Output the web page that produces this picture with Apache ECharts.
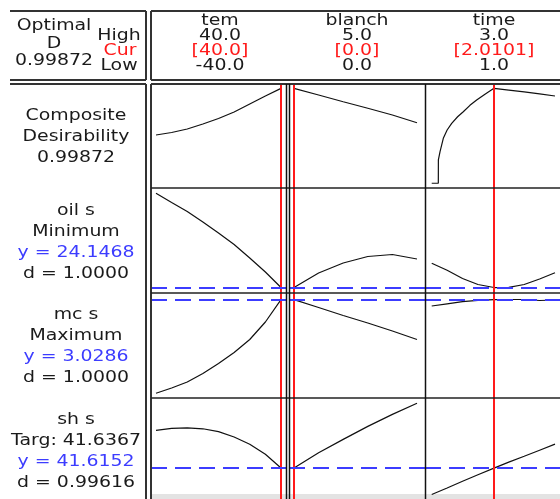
<!DOCTYPE html>
<html>
<head>
<meta charset="utf-8">
<script src="https://cdn.jsdelivr.net/npm/echarts/dist/echarts.min.js"></script>
<style>
html,body{margin:0;padding:0;background:#ffffff;}
#chart{width:560px;height:499px;}
</style>
</head>
<body>
<div id="chart"></div>
<script>
// ---- Data ----
const factors = ['tem', 'blanch', 'time'];
const highVals = [40.0, 5.0, 3.0];
const curVals = [40.0, 0.0, 2.0101];
const lowVals = [-40.0, 0.0, 1.0];
const optimalD = '0.99872';
const responses = ['oil s', 'mc s', 'sh s'];
const goals = ['Minimum', 'Maximum', 'Targ: 41.6367'];
const predicted = [24.1468, 3.0286, 41.6152];
const desirability = ['1.0000', '1.0000', '0.99616'];

const temX = [-40, -30, -20, -10, 0, 10, 20, 30, 40];
const blanchX = [0, 1, 2, 3, 4, 5];
const timeX = [1.0, 1.25, 1.5, 1.75, 2.0101, 2.25, 2.5, 2.75, 3.0];
const compTimeX = [1.0, 1.107, 1.108, 1.135, 1.188, 1.25, 1.324, 1.42, 1.512, 1.62, 1.729, 1.87, 2.0101, 2.25, 2.5, 2.75, 3.0];

const compTem = [0.508, 0.534, 0.571, 0.624, 0.681, 0.750, 0.834, 0.918, 0.99872];
const compBlanch = [0.99872, 0.929, 0.858, 0.789, 0.718, 0.637];
const compTime = [0, 0, 0.245, 0.332, 0.473, 0.56, 0.631, 0.70, 0.753, 0.82, 0.876, 0.94, 0.99872, 0.981, 0.962, 0.94, 0.918];

const oilTem = [33.57, 32.65, 31.75, 30.70, 29.60, 28.45, 27.10, 25.70, 24.1468];
const oilBlanch = [24.1468, 25.6, 26.6, 27.25, 27.45, 27.0];
const oilTime = [26.57, 25.87, 25.05, 24.45, 24.1468, 24.17, 24.45, 25.0, 25.63];

const mcTem = [2.092, 2.145, 2.205, 2.29, 2.39, 2.50, 2.63, 2.805, 3.0286];
const mcBlanch = [3.0286, 2.95, 2.87, 2.795, 2.715, 2.63];
const mcTime = [2.965, 2.987, 3.008, 3.022, 3.0286, 3.03, 3.03, 3.02, 3.025];

const shTem = [45.53, 45.75, 45.8, 45.7, 45.4, 44.85, 44.1, 43.05, 41.6152];
const shBlanch = [41.6152, 43.2, 44.6, 45.95, 47.2, 48.35];
const shTime = [38.87, 39.55, 40.24, 40.92, 41.6152, 42.23, 42.84, 43.47, 44.1];

// ---- Layout (positions / scales) ----
const colLayout = [
  {left: 151, width: 135, min: -43.2, max: 43.2},
  {left: 289, width: 136, min: -0.203, max: 5.325},
  {left: 425, width: 135, min: 0.891, max: 3.081}
];
const rowLayout = [
  {top: 83, height: 105, min: -0.05, max: 1.055},
  {top: 188, height: 105, min: 23.6, max: 34.1},
  {top: 293, height: 105, min: 2.045, max: 3.095},
  {top: 398, height: 105, min: 38.4, max: 48.9}
];
const curveX = [
  [temX, blanchX, compTimeX],
  [temX, blanchX, timeX],
  [temX, blanchX, timeX],
  [temX, blanchX, timeX]
];
const curveY = [
  [compTem, compBlanch, compTime],
  [oilTem, oilBlanch, oilTime],
  [mcTem, mcBlanch, mcTime],
  [shTem, shBlanch, shTime]
];
const hLines = [null, predicted[0], predicted[1], predicted[2]];

const BLACK = '#1a1a1a', RED = '#ff1a1a', BLUE = '#3c3cff';
const FONT = '16px "DejaVu Sans"';
const SX = 1.18;

function fmt(n) {
  return Number.isInteger(Math.round(n * 10000) / 1000) ? n.toFixed(1) : n.toFixed(4);
}

const grids = [], xAxes = [], yAxes = [], series = [];
for (let r = 0; r < 4; r++) {
  for (let c = 0; c < 3; c++) {
    const idx = r * 3 + c;
    const cl = colLayout[c], rl = rowLayout[r];
    grids.push({left: cl.left, width: cl.width, top: rl.top, height: rl.height, containLabel: false, show: false});
    xAxes.push({type: 'value', gridIndex: idx, min: cl.min, max: cl.max, show: false, splitLine: {show: false}});
    yAxes.push({type: 'value', gridIndex: idx, min: rl.min, max: rl.max, show: false, splitLine: {show: false}});
    const xs = curveX[r][c], ys = curveY[r][c];
    const data = xs.map((x, i) => [x, ys[i]]);
    const ml = [{xAxis: curVals[c], lineStyle: {color: RED, width: 2, type: 'solid'}}];
    if (hLines[r] !== null) ml.push({yAxis: hLines[r], lineStyle: {color: BLUE, width: 2, type: [16, 8]}});
    series.push({
      type: 'line', xAxisIndex: idx, yAxisIndex: idx, data: data,
      showSymbol: false, symbol: 'none', smooth: false, silent: true,
      lineStyle: {color: '#111', width: 1.2},
      z: 3,
      markLine: {silent: true, symbol: ['none', 'none'], label: {show: false}, animation: false, data: ml, z: 4}
    });
  }
}

function txt(str, x, y, color) {
  return {type: 'text', x: x, y: y, scaleX: SX, z: 10, silent: true,
    style: {text: str, x: 0, y: 0, fill: color, font: FONT,
      textAlign: 'center', textVerticalAlign: 'middle', align: 'center', verticalAlign: 'middle'}};
}
function ln(x1, y1, x2, y2, w, col) {
  return {type: 'line', z: 8, silent: true, shape: {x1: x1, y1: y1, x2: x2, y2: y2}, style: {stroke: col || '#333', lineWidth: w || 2}};
}

const g = [];
// gray strip at bottom
g.push({type: 'rect', z: 1, silent: true, shape: {x: 151, y: 494, width: 409, height: 5}, style: {fill: '#e3e3e3'}});
// header texts
g.push(txt('Optimal', 54, 26, BLACK));
g.push(txt('D', 54, 44, BLACK));
g.push(txt(optimalD, 54, 61, BLACK));
g.push(txt('High', 119, 36, BLACK));
g.push(txt('Cur', 120, 51, RED));
g.push(txt('Low', 119, 66, BLACK));
const headCx = [220, 357, 494];
factors.forEach((f, c) => {
  g.push(txt(f, headCx[c], 21, BLACK));
  g.push(txt(fmt(highVals[c]), headCx[c], 36, BLACK));
  g.push(txt('[' + fmt(curVals[c]) + ']', headCx[c], 51, RED));
  g.push(txt(fmt(lowVals[c]), headCx[c], 66, BLACK));
});
// row labels
const LX = 76;
g.push(txt('Composite', LX, 116, BLACK));
g.push(txt('Desirability', LX, 137, BLACK));
g.push(txt(optimalD, LX, 158, BLACK));
const rowCenters = [242, 346.5, 451.5];
responses.forEach((name, i) => {
  const cy = rowCenters[i];
  g.push(txt(name, LX, cy - 31.5, BLACK));
  g.push(txt(goals[i], LX, cy - 10.5, BLACK));
  g.push(txt('y = ' + predicted[i].toFixed(4), LX, cy + 10.5, BLUE));
  g.push(txt('d = ' + desirability[i], LX, cy + 31.5, BLACK));
});
// white mask at the left edge (text clipped by the box)
g.push({type: 'rect', z: 11, silent: true, shape: {x: 0, y: 84, width: 9, height: 415}, style: {fill: '#ffffff'}});
// frames
g.push(ln(10, 11, 146, 11));
g.push(ln(146, 11, 146, 80));
g.push(ln(10, 80, 146, 80));
g.push(ln(151, 11, 560, 11));
g.push(ln(151, 11, 151, 80));
g.push(ln(151, 80, 560, 80));
g.push(ln(10, 84, 146, 84));
g.push(ln(146, 84, 146, 499));
g.push(ln(151, 84, 560, 84));
g.push(ln(151, 84, 151, 499));
// inner dividers
[188, 293, 398].forEach(y => g.push(ln(151, y, 560, y, 1.5, '#222')));
g.push(ln(286.5, 84, 286.5, 499, 1.5, '#111'));
g.push(ln(289.5, 84, 289.5, 499, 1.5, '#111'));
g.push(ln(425.5, 84, 425.5, 499, 1.5, '#111'));

const chart = echarts.init(document.getElementById('chart'), null, {renderer: 'canvas'});
chart.setOption({
  animation: false,
  backgroundColor: '#ffffff',
  grid: grids,
  xAxis: xAxes,
  yAxis: yAxes,
  series: series,
  graphic: {elements: g}
});
</script>
</body>
</html>
